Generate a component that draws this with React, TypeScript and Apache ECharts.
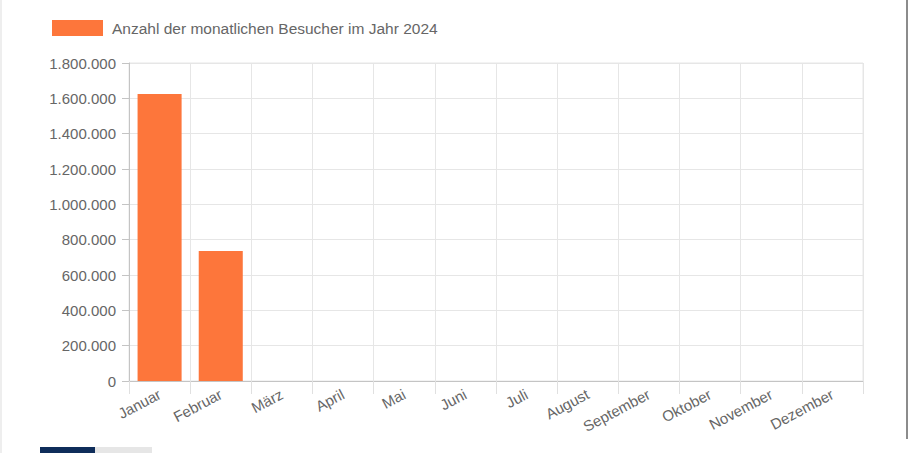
import React, { useEffect, useRef } from "react";
import * as echarts from "echarts";

const categories = ["Januar", "Februar", "März", "April", "Mai", "Juni", "Juli", "August", "September", "Oktober", "November", "Dezember"];
const visitors = [1625000, 736000, null, null, null, null, null, null, null, null, null, null];
const seriesName = "Anzahl der monatlichen Besucher im Jahr 2024";
const yMin = 0;
const yMax = 1800000;
const yStep = 200000;

function fmtDE(v: number): string {
  return String(Math.round(v)).replace(/\B(?=(\d{3})+(?!\d))/g, ".");
}

export default function App() {
  const ref = useRef<HTMLDivElement>(null);
  useEffect(() => {
    document.body.style.margin = "0";
    const chart = echarts.init(ref.current!, null, { renderer: "svg" });
    const font = "'Liberation Sans', Arial, Helvetica, sans-serif";
    chart.setOption({
      animation: false,
      backgroundColor: "#ffffff",
      textStyle: { fontFamily: font },
      legend: {
        left: 52,
        top: 20,
        padding: 0,
        itemWidth: 51,
        itemHeight: 16,
        icon: "rect",
        data: [seriesName],
        textStyle: { color: "#666", fontSize: 15.5, fontFamily: font, padding: [0, 0, 0, 4] },
      },
      grid: {
        left: 129,
        right: 47,
        top: 63,
        bottom: 72,
        show: true,
        borderColor: "#e6e6e6",
        borderWidth: 1,
      },
      xAxis: {
        type: "category",
        data: categories,
        boundaryGap: true,
        axisLine: { show: true, lineStyle: { color: "#c4c4c4", width: 1 } },
        axisTick: { show: true, length: 13, lineStyle: { color: "#e0e0e0" } },
        splitLine: { show: true, lineStyle: { color: "#e6e6e6" } },
        axisLabel: {
          interval: 0,
          rotate: 28,
          color: "#666",
          fontSize: 15,
          fontFamily: font,
          margin: 12,
        },
      },
      yAxis: {
        type: "value",
        min: yMin,
        max: yMax,
        interval: yStep,
        axisLine: { show: true, lineStyle: { color: "#c4c4c4", width: 1 } },
        axisTick: { show: true, length: 7, lineStyle: { color: "#c4c4c4" } },
        splitLine: { show: true, lineStyle: { color: "#e6e6e6" } },
        axisLabel: {
          color: "#666",
          fontSize: 15,
          fontFamily: font,
          margin: 13,
          formatter: (v: number) => fmtDE(v),
        },
      },
      series: [
        {
          name: seriesName,
          type: "bar",
          data: visitors,
          barCategoryGap: "28%",
          itemStyle: { color: "#fd763b" },
        },
      ],
      graphic: [
        { type: "rect", shape: { x: 0, y: 0, width: 2, height: 453 }, style: { fill: "#eeeeee" }, silent: true },
        { type: "rect", shape: { x: 906, y: 0, width: 2, height: 439 }, style: { fill: "#8c8c8c" }, silent: true },
        { type: "rect", shape: { x: 40, y: 447, width: 55, height: 6 }, style: { fill: "#0f2d5a" }, silent: true },
        { type: "rect", shape: { x: 95, y: 447, width: 57, height: 6 }, style: { fill: "#e6e6e6" }, silent: true },
      ],
    });
    return () => chart.dispose();
  }, []);
  return <div ref={ref} style={{ width: 910, height: 453 }} />;
}
